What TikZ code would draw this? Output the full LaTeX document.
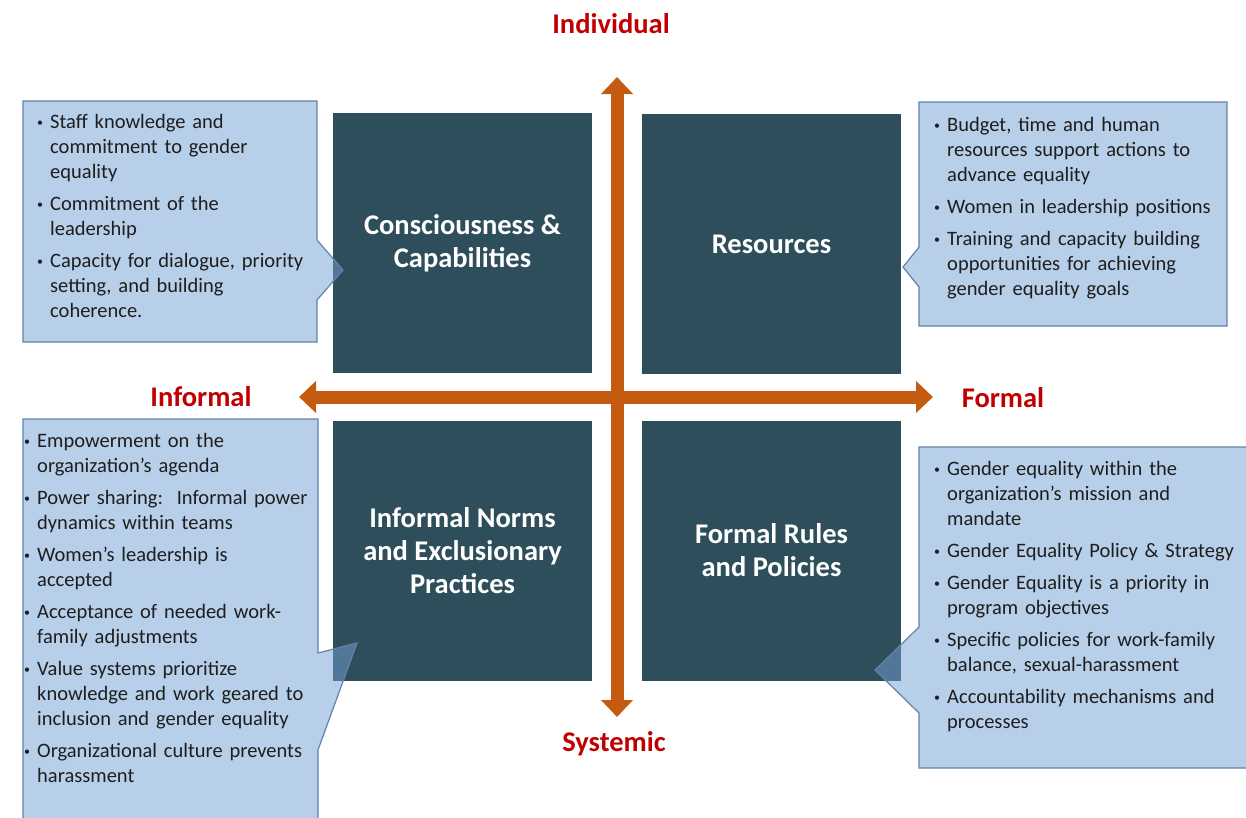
\documentclass[tikz,border=0pt]{standalone}
\usepackage{fontspec}
\setmainfont{Carlito}
\usetikzlibrary{arrows.meta}
\definecolor{boxteal}{RGB}{47,78,92}
\definecolor{axisorange}{RGB}{197,90,17}
\definecolor{axisred}{RGB}{192,0,0}
\definecolor{callfill}{RGB}{113,161,213}
\definecolor{callline}{RGB}{100,130,170}
\definecolor{bodytext}{RGB}{30,30,30}
\newcommand{\itm}[1]{\hangindent=13pt\hangafter=1\noindent\makebox[13pt][l]{\raisebox{2pt}{\fontsize{12}{12}\selectfont\textbullet}}#1\par}
\newcommand{\igap}{\vspace{7pt}}
\newcommand{\fstrut}{\rule{0pt}{16pt}}
\tikzset{
  quad/.style={fill=boxteal, minimum width=259pt, minimum height=260pt, inner sep=0pt,
    text=white, font=\fontsize{28.5}{33}\selectfont\bfseries, align=center},
  axis/.style={draw=axisorange, line width=13pt,
    {Triangle[length=17pt,width=31pt]}-{Triangle[length=17pt,width=31pt]}},
  axlabel/.style={text=axisred, font=\fontsize{28.5}{32}\selectfont\bfseries, inner sep=0pt},
  callout/.style={fill=callfill, fill opacity=0.5, draw=callline, draw opacity=1, line width=1.2pt, line join=miter},
  calltext/.style={anchor=north west, inner sep=0pt, text=bodytext, text width=320pt,
    font=\fontsize{20.5}{25}\selectfont}
}
\begin{document}
\begin{tikzpicture}[x=1pt, y=-1pt]
\useasboundingbox (0,0) rectangle (1246,817);
\fill[white] (0,0) rectangle (1246,817);

% quadrant boxes
\node[quad] (cc) at (462.5,243) {Consciousness \&\\Capabilities};
\node[quad] (res) at (771.5,244) {Resources};
\node[quad] (inf) at (462.5,550.5) {Informal Norms\\and Exclusionary\\Practices};
\node[quad] (frp) at (771.5,550.5) {Formal Rules\\and Policies};

% axes
\coordinate (ntop) at (617,77);
\coordinate (nbot) at (617,717);
\coordinate (nleft) at (299,397);
\coordinate (nright) at (933,397);
\draw[axis] (nbot) -- (ntop);
\draw[axis] (nleft) -- (nright);

% axis labels
\node[axlabel] (lind) at (611,24) {Individual};
\node[axlabel] (linf) at (201,397) {Informal};
\node[axlabel] (lfor) at (1003,398) {Formal};
\node[axlabel] (lsys) at (614,744) {Systemic};

% callout shapes
\draw[callout] (23,101) -- (317,101) -- (317,240) -- (343,270) -- (317,300) -- (317,342) -- (23,342) -- cycle;
\draw[callout] (919,102) -- (1227,102) -- (1227,326) -- (919,326) -- (919,287) -- (903,267) -- (919,247) -- cycle;
\draw[callout] (23,419) -- (318,419) -- (318,653) -- (357,643) -- (318,750) -- (318,830) -- (23,830) -- cycle;
\draw[callout] (919,447) -- (1260,447) -- (1260,768) -- (919,768) -- (919,713) -- (875,670) -- (919,627) -- cycle;

% callout texts
\node[calltext] (tltext) at (37,112) {\raggedright\fstrut
\itm{Staff knowledge and\newline commitment to gender\newline equality}\igap
\itm{Commitment of the\newline leadership}\igap
\itm{Capacity for dialogue, priority\newline setting, and building\newline coherence.}};

\node[calltext] (trtext) at (934,115) {\raggedright\fstrut
\itm{Budget, time and human\newline resources support actions to\newline advance equality}\igap
\itm{Women in leadership positions}\igap
\itm{Training and capacity building\newline opportunities for achieving\newline gender equality goals}};

\node[calltext] (bltext) at (24,431) {\raggedright\fstrut
\itm{Empowerment on the\newline organization’s agenda}\igap
\itm{Power sharing:\ \ Informal power\newline dynamics within teams}\igap
\itm{Women’s leadership is\newline accepted}\igap
\itm{Acceptance of needed work-\newline family adjustments}\igap
\itm{Value systems prioritize\newline knowledge and work geared to\newline inclusion and gender equality}\igap
\itm{Organizational culture prevents\newline harassment}};

\node[calltext] (brtext) at (934,459) {\raggedright\fstrut
\itm{Gender equality within the\newline organization’s mission and\newline mandate}\igap
\itm{Gender Equality Policy \& Strategy}\igap
\itm{Gender Equality is a priority in\newline program objectives}\igap
\itm{Specific policies for work-family\newline balance, sexual-harassment}\igap
\itm{Accountability mechanisms and\newline processes}};
\end{tikzpicture}
\end{document}
